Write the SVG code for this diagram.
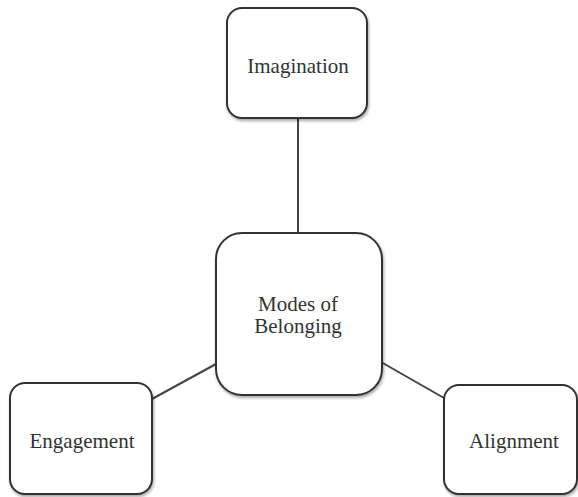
<svg xmlns="http://www.w3.org/2000/svg" width="578" height="497" viewBox="0 0 578 497">
  <defs>
    <filter id="shadow" x="-10%" y="-10%" width="125%" height="125%">
      <feGaussianBlur in="SourceAlpha" stdDeviation="1.5"/>
      <feOffset dx="1" dy="2"/>
      <feComponentTransfer><feFuncA type="linear" slope="0.35"/></feComponentTransfer>
      <feMerge><feMergeNode/><feMergeNode in="SourceGraphic"/></feMerge>
    </filter>
  </defs>
  <rect width="578" height="497" fill="#ffffff"/>
  <!-- plain links between the centre box and the three outer boxes -->
  <g id="connectors" stroke="#444444" stroke-width="2" fill="none">
    <line x1="298" y1="118" x2="298" y2="233"/>
    <line x1="152" y1="399" x2="216" y2="364"/>
    <line x1="381" y1="362" x2="444" y2="398"/>
  </g>
  <g id="imagination">
    <rect x="227" y="8" width="140" height="110" rx="15" fill="#ffffff" stroke="#333333" stroke-width="2" filter="url(#shadow)"/>
    <text x="298" y="73" font-family="'Liberation Serif', 'Times New Roman', Times, 'DejaVu Serif', serif" style="font-family:'Liberation Serif','Times New Roman',Times,'DejaVu Serif',serif" font-size="21" fill="#333333" text-anchor="middle">Imagination</text>
  </g>
  <g id="modes-of-belonging">
    <rect x="216" y="233" width="166" height="162" rx="26" fill="#ffffff" stroke="#333333" stroke-width="2" filter="url(#shadow)"/>
    <text x="298" y="311" font-family="'Liberation Serif', 'Times New Roman', Times, 'DejaVu Serif', serif" style="font-family:'Liberation Serif','Times New Roman',Times,'DejaVu Serif',serif" font-size="21" fill="#333333" text-anchor="middle">Modes of</text>
    <text x="298" y="333" font-family="'Liberation Serif', 'Times New Roman', Times, 'DejaVu Serif', serif" style="font-family:'Liberation Serif','Times New Roman',Times,'DejaVu Serif',serif" font-size="21" fill="#333333" text-anchor="middle">Belonging</text>
  </g>
  <g id="engagement">
    <rect x="10" y="383" width="142" height="111" rx="15" fill="#ffffff" stroke="#333333" stroke-width="2" filter="url(#shadow)"/>
    <text x="82" y="448" font-family="'Liberation Serif', 'Times New Roman', Times, 'DejaVu Serif', serif" style="font-family:'Liberation Serif','Times New Roman',Times,'DejaVu Serif',serif" font-size="21" fill="#333333" text-anchor="middle">Engagement</text>
  </g>
  <g id="alignment">
    <rect x="444" y="385" width="133" height="109" rx="15" fill="#ffffff" stroke="#333333" stroke-width="2" filter="url(#shadow)"/>
    <text x="514" y="448" font-family="'Liberation Serif', 'Times New Roman', Times, 'DejaVu Serif', serif" style="font-family:'Liberation Serif','Times New Roman',Times,'DejaVu Serif',serif" font-size="21" fill="#333333" text-anchor="middle">Alignment</text>
  </g>
</svg>
